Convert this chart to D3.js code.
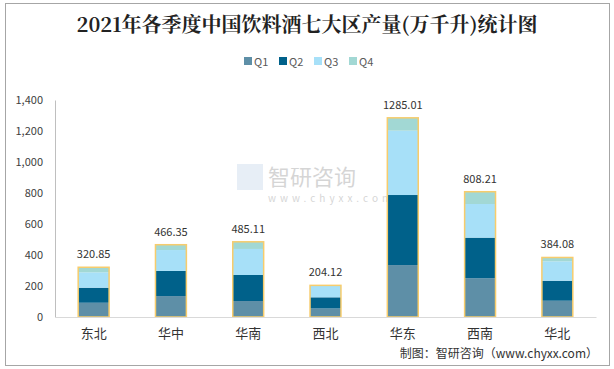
<!DOCTYPE html>
<html><head><meta charset="utf-8">
<script src="https://cdn.jsdelivr.net/npm/d3@7/dist/d3.min.js"></script>
<style>body{margin:0;background:#fff;}svg{display:block;}</style>
</head><body>
<svg id="c" width="614" height="369"></svg>
<script>
const categories = ["东北","华中","华南","西北","华东","西南","华北"];
const seriesNames = ["Q1","Q2","Q3","Q4"];
const q1 = [92, 135, 103, 55, 335, 250, 105];
const q2 = [97, 162, 168, 72, 452, 262, 129];
const q3 = [99, 135, 168, 74, 415, 217, 125];
const q4 = [32.85, 34.35, 46.11, 3.12, 83.01, 79.21, 25.08];
const totals = ["320.85","466.35","485.11","204.12","1285.01","808.21","384.08"];
const yTicks = [0,200,400,600,800,1000,1200,1400];
const colors = ["#5e8fa7","#00618a","#a7e0f8","#a2d8d4"];

const svg = d3.select("#c");
const font = "'Microsoft YaHei','Noto Sans CJK SC','Noto Sans',sans-serif";
svg.append("rect").attr("x",5.5).attr("y",3.5).attr("width",604).attr("height",362)
  .attr("fill","#fff").attr("stroke","#a6a6a6");

svg.append("text").attr("x",307).attr("y",32).attr("text-anchor","middle")
  .attr("font-family","'Noto Serif CJK SC','Noto Sans CJK SC',serif").attr("font-weight","bold")
  .attr("font-size",20).attr("fill","#222").text("2021年各季度中国饮料酒七大区产量(万千升)统计图");

// legend
const lg = svg.append("g");
seriesNames.forEach((s,i)=>{
  const x = 244 + i*35;
  lg.append("rect").attr("x",x).attr("y",57).attr("width",8).attr("height",8).attr("fill",colors[i]);
  lg.append("text").attr("x",x+10).attr("y",65.5).attr("font-family",font).attr("font-size",11)
    .attr("fill","#595959").text(s);
});

const x = d3.scaleBand().domain(categories).range([55,596]).paddingInner(0.6).paddingOuter(0.3);
const y = d3.scaleLinear().domain([0,1400]).range([317,100]);

// watermark
const wm = svg.append("g").attr("opacity",0.35);
wm.append("text").attr("x",268).attr("y",185).attr("font-family",font).attr("font-size",22)
  .attr("fill","#8a8a8a").text("智研咨询");
wm.append("text").attr("x",268).attr("y",202).attr("font-family",font).attr("font-size",10)
  .attr("letter-spacing","4px").attr("fill","#8a8a8a").text("www.chyxx.com");
wm.append("rect").attr("x",237).attr("y",164).attr("width",26).attr("height",26).attr("fill","#8fb0d6").attr("opacity",0.6);

// y axis
const ya = svg.append("g").attr("transform","translate(55,0)")
  .call(d3.axisLeft(y).tickValues(yTicks).tickSize(0).tickPadding(12).tickFormat(d3.format(",")));
ya.select(".domain").attr("stroke","#bfbfbf");
ya.selectAll("text").attr("font-family",font).attr("font-size",11).attr("fill","#404040");

// bars
const data = categories.map((c,i)=>({cat:c,Q1:q1[i],Q2:q2[i],Q3:q3[i],Q4:q4[i]}));
const stack = d3.stack().keys(seriesNames)(data);
stack.forEach((layer,li)=>{
  svg.append("g").selectAll("rect").data(layer).join("rect")
    .attr("x",d=>x(d.data.cat)).attr("width",x.bandwidth())
    .attr("y",d=>y(d[1])).attr("height",d=>y(d[0])-y(d[1]))
    .attr("fill",colors[li]);
});
svg.append("g").selectAll("rect").data(stack[3]).join("rect")
  .attr("x",d=>x(d.data.cat)).attr("width",x.bandwidth())
  .attr("y",d=>y(d[1])).attr("height",d=>y(0)-y(d[1]))
  .attr("fill","none").attr("stroke","#f7cc6c").attr("stroke-width",1.5);

// x axis
const xa = svg.append("g").attr("transform","translate(0,317)")
  .call(d3.axisBottom(x).tickSize(0).tickPadding(12));
xa.select(".domain").attr("stroke","#d9d9d9");
xa.selectAll("text").attr("font-family",font).attr("font-size",13).attr("fill","#333");

// totals
svg.append("g").selectAll("text").data(stack[3]).join("text")
  .attr("x",d=>x(d.data.cat)+x.bandwidth()/2).attr("y",d=>y(d[1])-9)
  .attr("text-anchor","middle").attr("font-family",font).attr("font-size",11).attr("fill","#333")
  .text((d,i)=>totals[i]);

svg.append("text").attr("x",598).attr("y",358).attr("text-anchor","end")
  .attr("font-family",font).attr("font-size",12).attr("fill","#333")
  .text("制图：智研咨询（www.chyxx.com）");
</script>
</body></html>
